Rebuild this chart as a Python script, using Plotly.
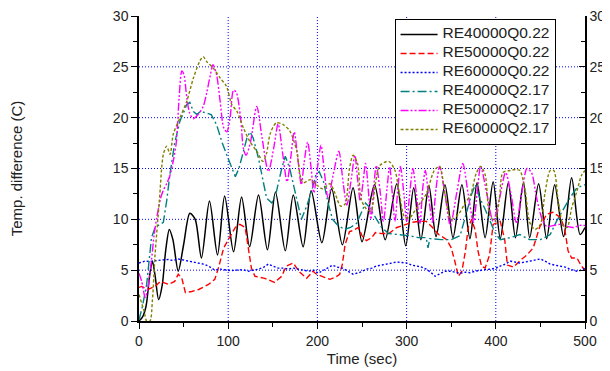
import plotly.graph_objects as go

# ---------------- data ----------------
t_re40_q022 = [0, 4, 8, 12, 15, 18, 22, 26, 30, 34, 38, 44, 50, 57, 63, 70, 79, 88, 96, 106, 115, 124,
               134, 144, 153, 164, 173, 184, 193, 205, 216, 228, 240, 250, 264, 276, 289, 299, 308, 316,
               325, 333, 343, 352, 362, 371, 379, 388, 397, 405, 414, 422, 431, 438, 448, 457, 466, 476,
               485, 494.5, 500]
v_re40_q022 = [0, 0.4, 1.5, 4.5, 5.9, 4.5, 2.1, 3.5, 7.0, 9.0, 8.0, 4.9, 7.5, 10.6, 10.0, 6.2, 11.8, 6.5,
               12.3, 6.8, 12.2, 7.3, 12.4, 7.0, 12.7, 6.9, 12.4, 7.3, 12.8, 7.7, 13.0, 7.5, 13.1, 7.8, 13.4,
               8.0, 13.5, 7.4, 13.1, 8.0, 13.3, 8.3, 13.4, 8.2, 13.4, 8.1, 13.6, 8.2, 13.7, 8.1, 13.6, 8.2,
               13.6, 8.2, 13.5, 8.1, 13.4, 8.3, 14.1, 8.5, 9.2]

t_re50_q022 = [0, 3, 10, 15, 18, 24, 28, 33, 40, 44, 48, 52, 59, 67, 78, 85, 89, 95, 102, 108, 113, 119,
               122, 126, 130, 141, 152, 160, 165, 173, 179, 188, 195, 199, 208, 214, 220, 225, 228, 231,
               236, 240, 246, 250, 255, 261, 265, 272, 280, 289, 296, 306, 315, 322, 328, 336, 345, 350,
               354, 358, 362, 366, 369, 373, 377, 380, 384, 388, 393, 397, 405, 410, 413, 420, 428, 435,
               442, 449, 457, 464, 472, 477, 481, 485, 491, 496, 500]
v_re50_q022 = [3.3, 3.4, 3.1, 3.3, 3.4, 3.9, 3.8, 3.6, 3.9, 4.6, 4.2, 2.8, 2.9, 3.1, 3.6, 4.1, 5.2, 7.2,
               8.3, 9.2, 9.5, 9.2, 7.5, 5.2, 4.4, 4.2, 3.8, 4.4, 5.4, 5.7, 4.9, 4.2, 4.9, 4.6, 4.3, 4.1,
               4.3, 4.6, 5.6, 7.5, 8.8, 8.9, 9.2, 8.4, 7.9, 8.2, 8.7, 8.6, 8.6, 9.2, 9.4, 9.7, 9.8, 9.8,
               9.3, 8.5, 8.0, 7.2, 5.9, 4.4, 4.9, 6.9, 9.2, 10.0, 8.9, 6.9, 5.4, 5.2, 6.5, 9.5, 9.8, 8.0,
               5.5, 5.3, 6.0, 6.5, 7.2, 9.2, 10.5, 10.7, 10.2, 9.2, 6.9, 6.2, 6.2, 5.4, 5.0]

t_re60_q022 = [0, 4, 7, 12, 18, 25, 33, 38, 44, 50, 55, 61, 67, 72, 78, 85, 91, 97, 103, 108, 116, 123,
               129, 134, 140, 145, 150, 156, 162, 167, 173, 179, 185, 190, 196, 201, 209, 217, 222, 228,
               234, 240, 248, 255, 261, 266, 272, 278, 284, 289, 295, 300, 306, 311, 317, 322, 327, 332,
               337, 343, 349, 355, 360, 366, 371, 377, 382, 388, 394, 400, 405, 411, 416, 422, 427, 433,
               438, 444, 450, 455, 461, 466, 472, 478, 483, 488, 491, 496, 500]
v_re60_q022 = [5.7, 5.8, 5.9, 5.85, 5.95, 6.0, 6.05, 5.95, 6.1, 6.0, 5.95, 5.85, 5.7, 5.6, 5.4, 5.0, 5.1,
               5.0, 4.95, 5.0, 5.05, 4.9, 5.0, 5.1, 5.3, 5.6, 5.4, 5.2, 5.2, 5.1, 5.2, 5.1, 5.0, 4.9, 5.0,
               4.7, 5.1, 5.5, 5.3, 5.2, 4.9, 4.6, 4.8, 5.1, 5.2, 5.4, 5.5, 5.6, 5.7, 5.8, 5.75, 5.7, 5.5,
               5.4, 5.3, 5.1, 4.8, 4.4, 4.6, 4.9, 4.9, 4.8, 4.7, 4.8, 4.75, 4.9, 5.0, 5.05, 5.1, 5.2, 5.4,
               5.6, 5.9, 5.8, 5.7, 5.8, 5.9, 6.0, 6.1, 5.9, 5.6, 5.5, 5.4, 5.3, 5.1, 5.0, 4.9, 5.0, 5.2]

t_re40_q217 = [0, 4, 8.6, 12, 14, 18, 23.5, 27.3, 31, 34.8, 40, 46, 50, 53.5, 57, 61, 65, 68.5, 74, 81, 87,
               93, 98.5, 104, 108, 112, 115, 121, 124.5, 128, 134, 139, 143, 149, 154, 160, 164, 169, 175,
               179, 182, 188, 194, 198, 202, 207, 212, 217, 222, 230, 237, 244, 250, 254, 258, 265, 272,
               280, 291, 302, 313, 322, 324, 326, 339, 350, 360, 367, 373, 377, 382, 388, 394, 399, 405,
               416, 427, 438, 450, 461, 468, 476, 483, 491, 500]
v_re40_q217 = [0.1, 1.5, 3.6, 6.5, 8.2, 9.2, 9.5, 9.7, 11.8, 14.5, 17.5, 19.7, 20.5, 21.3, 21.5, 20.6,
               20.3, 20.6, 20.5, 20.3, 19.3, 17.6, 16.3, 15.0, 14.2, 15.0, 16.0, 18.0, 18.6, 18.0, 16.0,
               13.7, 12.1, 11.6, 12.7, 15.0, 16.2, 15.0, 12.7, 11.1, 10.0, 11.3, 12.9, 14.3, 14.7, 13.7,
               11.6, 10.0, 9.5, 9.0, 9.2, 9.6, 10.8, 11.6, 11.2, 10.2, 9.2, 8.6, 8.5, 8.4, 8.2, 8.2, 7.2,
               8.1, 8.0, 8.0, 8.4, 10.7, 12.5, 13.4, 12.1, 11.0, 9.8, 8.7, 8.0, 8.2, 8.5, 8.0, 8.0, 8.5,
               9.8, 11.0, 12.1, 13.1, 13.4]

t_re50_q217 = [0, 3, 7, 10, 14, 17, 20, 24, 27, 31, 35, 39, 42, 45, 48, 50.5, 53.5, 57, 61, 67, 72, 76,
               80, 83, 87, 91, 95, 98.5, 102, 106, 109, 114, 117, 120, 125, 132, 138, 145, 151, 156, 161,
               166, 170, 174, 178, 182, 185, 189, 193, 196, 200, 204, 208, 212, 218, 224, 229, 233, 238,
               242, 245, 248, 251, 254, 257, 260, 263, 266, 270, 274, 278, 281, 284, 287, 290, 293, 297,
               300, 304, 307, 311, 315, 318, 321, 325, 329, 333, 337, 343, 349, 356, 363, 369, 375, 379,
               383, 390, 397, 404, 411, 417, 423, 429, 435, 440, 446, 452, 457, 465, 472, 480, 487, 494,
               500]
v_re50_q217 = [4.7, 3.9, 2.3, 3.3, 6.0, 8.5, 10.2, 12.0, 12.8, 13.5, 14.4, 16.0, 17.7, 22.0, 24.6, 24.2,
               22.0, 20.4, 19.9, 20.4, 21.1, 22.5, 24.2, 25.2, 24.2, 21.6, 19.0, 18.6, 19.9, 22.7, 22.5,
               19.9, 17.0, 16.3, 17.6, 21.1, 18.0, 14.7, 17.0, 19.4, 16.5, 13.7, 16.0, 18.6, 16.0, 13.4,
               15.5, 17.6, 15.0, 12.6, 15.0, 17.3, 14.5, 12.1, 14.5, 16.7, 13.5, 11.4, 14.0, 16.3, 14.0,
               11.8, 13.5, 15.5, 13.0, 10.0, 13.0, 15.3, 13.0, 9.8, 13.0, 15.2, 12.5, 9.8, 12.8, 15.2,
               12.5, 9.8, 13.0, 15.0, 12.5, 9.6, 13.0, 14.8, 12.0, 9.7, 13.0, 15.2, 12.5, 9.4, 12.5, 15.5,
               12.5, 9.7, 12.5, 15.2, 12.5, 9.8, 12.0, 14.6, 12.5, 9.7, 12.5, 15.0, 14.6, 12.0, 10.0, 9.3,
               9.4, 9.5, 9.3, 9.2, 9.4, 9.4]

t_re60_q217 = [0, 5.6, 8.6, 12.3, 15, 18, 22.8, 27.3, 31, 34.8, 38.5, 46, 53.5, 61, 68.4, 72, 76, 83, 91,
               98, 104, 110, 117, 124, 132, 139, 143, 147, 154, 162, 169, 177, 180.5, 184, 192, 199, 206,
               214, 220, 226, 231, 236, 240, 245, 249, 255, 260, 265, 270, 280, 287, 292, 298, 304, 311,
               322, 331, 337, 343, 350, 358, 365, 372, 378, 383, 388, 393, 399, 404, 408, 416, 422, 427,
               433, 438, 444, 450, 455, 461, 465, 470, 476, 480, 485, 491, 496, 500]
v_re60_q217 = [2.6, 1.0, 0, 0, 2.0, 6.5, 11.8, 16.4, 17.2, 16.4, 18.4, 20.0, 21.6, 23.9, 25.6, 26.0, 25.5,
               24.9, 23.9, 23.1, 21.3, 20.6, 19.0, 17.7, 16.7, 15.7, 16.5, 18.4, 19.5, 19.3, 18.7, 16.7,
               14.4, 13.6, 13.9, 13.4, 13.0, 13.5, 12.5, 11.3, 11.5, 15.0, 16.3, 15.5, 12.0, 11.0, 10.8,
               13.5, 15.3, 15.7, 14.8, 12.5, 10.2, 10.2, 11.1, 12.5, 14.8, 15.2, 12.5, 10.0, 10.5, 11.5,
               12.5, 14.5, 15.2, 14.4, 10.5, 9.8, 12.0, 14.6, 14.8, 14.9, 14.8, 12.8, 9.7, 9.0, 9.5, 12.5,
               14.8, 14.8, 11.8, 9.3, 9.2, 11.1, 12.8, 14.3, 14.8]

series_names = ["RE40000Q0.22", "RE50000Q0.22", "RE60000Q0.22",
                "RE40000Q2.17", "RE50000Q2.17", "RE60000Q2.17"]

x_ticks = [0, 100, 200, 300, 400, 500]
y_ticks = [0, 5, 10, 15, 20, 25, 30]

# ---------------- figure ----------------
FONT = "Arial, Liberation Sans, sans-serif"

styles = [
    dict(color="#000000", dash="solid", width=1.5, shape="spline"),
    dict(color="#FF0000", dash="6px,3px", width=1.4, shape="linear"),
    dict(color="#0000FF", dash="2px,2px", width=1.4, shape="linear"),
    dict(color="#008080", dash="9px,3px,2px,3px", width=1.4, shape="linear"),
    dict(color="#FF00FF", dash="8px,2px,2px,2px,2px,2px", width=1.4, shape="spline"),
    dict(color="#808000", dash="3px,2px", width=1.4, shape="spline"),
]
data = [(t_re40_q022, v_re40_q022), (t_re50_q022, v_re50_q022), (t_re60_q022, v_re60_q022),
        (t_re40_q217, v_re40_q217), (t_re50_q217, v_re50_q217), (t_re60_q217, v_re60_q217)]

fig = go.Figure()
for (tt, vv), name, st in zip(data, series_names, styles):
    fig.add_trace(go.Scatter(
        x=tt, y=vv, mode="lines",
        name='<span style="font-size:15.5px">' + name + '</span>',
        line=dict(color=st["color"], dash=st["dash"], width=st["width"],
                  shape=st["shape"], smoothing=0.8),
    ))

# dummy trace so the right-hand axis is drawn
fig.add_trace(go.Scatter(x=[], y=[], yaxis="y2", showlegend=False, hoverinfo="skip"))

# dotted blue grid lines at inner major ticks
shapes = []
for gx in x_ticks[1:-1]:
    shapes.append(dict(type="line", xref="x", yref="y", x0=gx, x1=gx, y0=y_ticks[0], y1=y_ticks[-1],
                       line=dict(color="#0000FF", width=1, dash="1px,2px"), layer="below"))
for gy in y_ticks[1:-1]:
    shapes.append(dict(type="line", xref="x", yref="y", x0=x_ticks[0], x1=x_ticks[-1], y0=gy, y1=gy,
                       line=dict(color="#0000FF", width=1, dash="1px,2px"), layer="below"))

axis_common = dict(showline=True, linecolor="black", linewidth=1.5, showgrid=False, zeroline=False,
                   tickcolor="black", tickwidth=1.2, ticklen=6, automargin=False,
                   ticklabeloverflow="allow",
                   tickfont=dict(family=FONT, size=14, color="#222"))

# the page body has an 8px margin, so the figure is sized/offset to compensate
fig.update_layout(
    width=602, height=363,
    margin=dict(l=131, r=25, t=8, b=50),
    paper_bgcolor="white", plot_bgcolor="white",
    font=dict(family=FONT, size=14, color="#222"),
    shapes=shapes,
    showlegend=True,
    legend=dict(x=0.573, y=0.99, xanchor="left", yanchor="top",
                bgcolor="white", bordercolor="black", borderwidth=1,
                font=dict(family=FONT, size=10, color="#222"),
                itemwidth=37, tracegroupgap=0),
    xaxis=dict(range=[0, 500], tickmode="array", tickvals=x_ticks, ticks="outside",
               minor=dict(dtick=50, tick0=0, ticks="outside", ticklen=4, tickcolor="black", tickwidth=1.2),
               title=dict(text="Time (sec)", font=dict(family=FONT, size=15, color="#222"), standoff=6),
               **axis_common),
    yaxis=dict(range=[0, 30], tickmode="array", tickvals=y_ticks, ticks="outside",
               minor=dict(dtick=2.5, tick0=0, ticks="outside", ticklen=4, tickcolor="black", tickwidth=1.2),
               title=dict(text="Temp. difference (C)", font=dict(family=FONT, size=15, color="#222"),
                          standoff=88),
               **axis_common),
    yaxis2=dict(range=[0, 30], overlaying="y", side="right", anchor="x",
                tickmode="array", tickvals=y_ticks, ticks="inside",
                minor=dict(dtick=2.5, tick0=0, ticks="inside", ticklen=4, tickcolor="black", tickwidth=1.2),
                **axis_common),
)

fig.write_html("out.html")
